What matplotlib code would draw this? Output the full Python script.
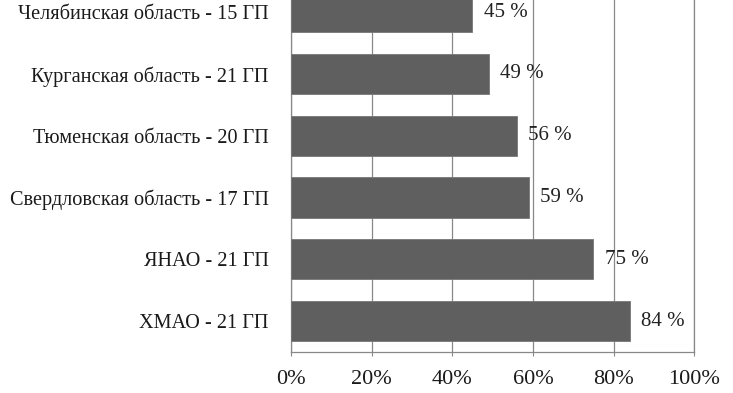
import matplotlib
matplotlib.use("Agg")
from matplotlib import pyplot as plt
from matplotlib.ticker import FuncFormatter

regions = [
    "ХМАО - 21 ГП",
    "ЯНАО - 21 ГП",
    "Свердловская область - 17 ГП",
    "Тюменская область - 20 ГП",
    "Курганская область - 21 ГП",
    "Челябинская область - 15 ГП",
]
shares = [84, 75, 59, 56, 49, 45]
ticks = [0, 20, 40, 60, 80, 100]


def main():
    plt.rcParams['font.family'] = ['Liberation Serif', 'DejaVu Serif']
    fig = plt.figure(figsize=(7.33, 3.93), dpi=100)
    ax = fig.add_axes([0.397, 0.104, 0.55, 0.944])

    y = list(range(len(regions)))
    ax.barh(y, shares, height=0.65, color='#5f5f5f', edgecolor='#777777',
            linewidth=0.6, zorder=3)
    for yi, v in zip(y, shares):
        ax.text(v + 2.8, yi, f"{v} %", va='center', ha='left',
                fontsize=15, color='#222222')

    ax.set_xlim(0, 100)
    ax.set_ylim(-0.5, len(regions) - 0.5)
    ax.set_xticks(ticks)
    ax.xaxis.set_major_formatter(FuncFormatter(lambda v, p: f"{v:.0f}%"))
    ax.set_yticks(y)
    ax.set_yticklabels(regions)
    ax.tick_params(axis='y', length=0, pad=16, labelsize=14.6, labelcolor='#1a1a1a')
    ax.tick_params(axis='x', length=3, pad=10, labelsize=16, labelcolor='#1a1a1a',
                   color='#888888', direction='out')
    ax.grid(axis='x', color='#888888', linewidth=0.9, zorder=0)
    for s in ax.spines.values():
        s.set_color('#888888')
        s.set_linewidth(0.9)

    fig.savefig("out.png", dpi=100)


if __name__ == "__main__":
    main()
